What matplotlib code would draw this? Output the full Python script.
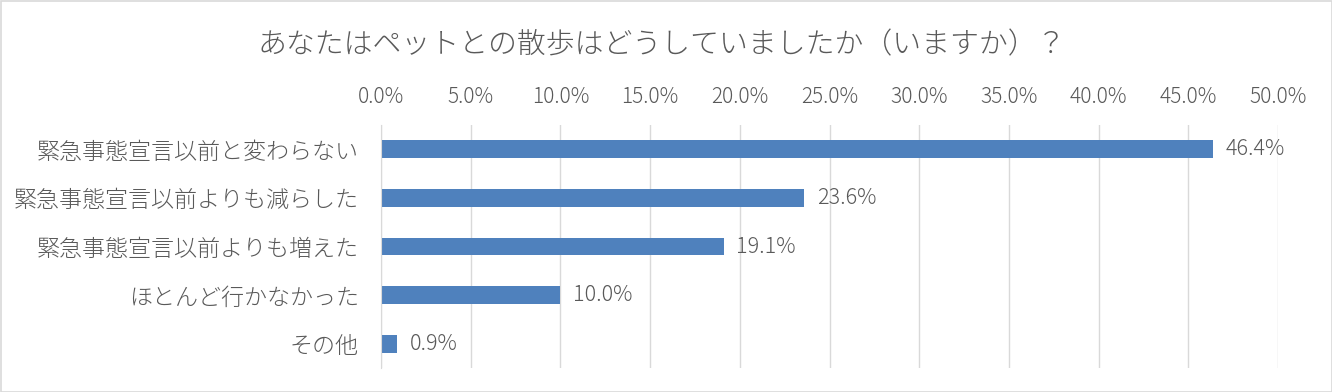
import matplotlib
matplotlib.use("Agg")
import matplotlib.pyplot as plt
from matplotlib.patches import Rectangle

plt.rcParams['font.family'] = ['Noto Sans CJK JP', 'DejaVu Sans']
plt.rcParams['font.weight'] = 'light'

title = "あなたはペットとの散歩はどうしていましたか（いますか）？"
categories = ["緊急事態宣言以前と変わらない", "緊急事態宣言以前よりも減らした",
              "緊急事態宣言以前よりも増えた", "ほとんど行かなかった", "その他"]
values = [46.4, 23.6, 19.1, 10.0, 0.9]
xticks = [0, 5, 10, 15, 20, 25, 30, 35, 40, 45, 50]

text_color = "#595959"
bar_color = "#4F81BD"
grid_color = "#D9D9D9"

fig = plt.figure(figsize=(13.32, 3.92), dpi=100)
ax = fig.add_axes([381/1332, 1-368/392, (1278-381)/1332, (368-125)/392])

y = list(range(len(categories)))
ax.barh(y, values, height=0.37, color=bar_color, zorder=3)
ax.set_ylim(len(categories)-0.5, -0.5)
ax.set_xlim(0, 50)
ax.set_xticks(xticks)
ax.set_xticklabels([f"{t:.1f}%" for t in xticks], fontsize=15, color=text_color)
ax.xaxis.tick_top()
ax.tick_params(axis='x', length=0, pad=12)
ax.set_yticks(y)
ax.set_yticklabels(categories, fontsize=16.6, color=text_color)
ax.tick_params(axis='y', length=0, pad=16)
ax.grid(axis='x', color=grid_color, linewidth=1, zorder=0)
for s in ['top', 'right', 'bottom']:
    ax.spines[s].set_visible(False)
ax.spines['left'].set_color(grid_color)
ax.spines['left'].set_zorder(4)

for yi, v in zip(y, values):
    ax.annotate(f"{v:.1f}%", (v, yi), xytext=(9, 0), textcoords='offset points',
                va='center', ha='left', fontsize=15.5, color=text_color, zorder=5)

fig.text(662/1332, 1-45/392, title, ha='center', va='center', fontsize=20.8, color=text_color)
fig.patches.append(Rectangle((0.5/1332, 0.5/392), 1-1/1332, 1-1/392, transform=fig.transFigure,
                             fill=False, edgecolor=grid_color, linewidth=1.2))
fig.savefig("out.png", dpi=100)
